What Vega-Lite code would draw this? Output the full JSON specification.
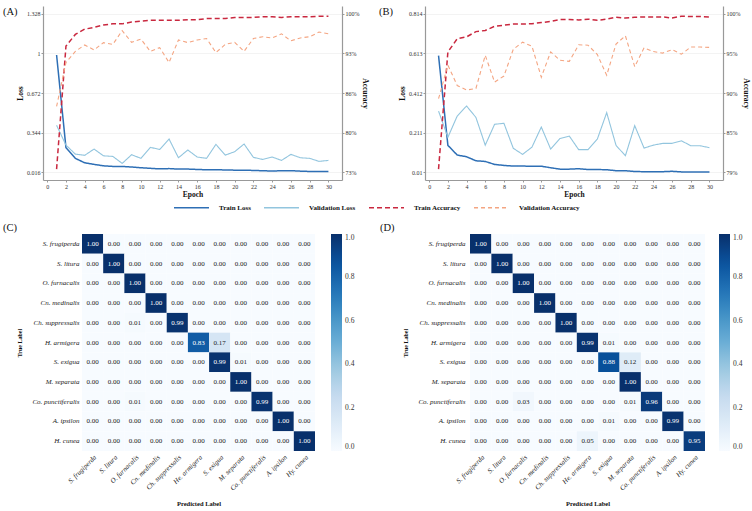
{
 "$schema": "https://vega.github.io/schema/vega-lite/v6.json",
 "padding": {"left": 2, "top": 6, "right": 1, "bottom": 2},
 "background": "white",
 "config": {
  "font": "Liberation Serif",
  "view": {"stroke": null},
  "axis": {"labelFont": "Liberation Serif", "titleFont": "Liberation Serif", "labelColor": "#333", "titleColor": "#111", "titleFontWeight": "bold"},
  "legend": {"labelFont": "Liberation Serif", "titleFont": "Liberation Serif"},
  "title": {"font": "Liberation Serif", "fontWeight": "normal", "color": "#111"}
 },
 "datasets": {
  "curvesA": [
   {"epoch":1,"series":"Train Loss","value":0.987},{"epoch":2,"series":"Train Loss","value":0.218},{"epoch":3,"series":"Train Loss","value":0.130},{"epoch":4,"series":"Train Loss","value":0.093},{"epoch":5,"series":"Train Loss","value":0.080},{"epoch":6,"series":"Train Loss","value":0.068},{"epoch":7,"series":"Train Loss","value":0.063},{"epoch":8,"series":"Train Loss","value":0.063},{"epoch":9,"series":"Train Loss","value":0.058},{"epoch":10,"series":"Train Loss","value":0.052},{"epoch":11,"series":"Train Loss","value":0.047},{"epoch":12,"series":"Train Loss","value":0.043},{"epoch":13,"series":"Train Loss","value":0.045},{"epoch":14,"series":"Train Loss","value":0.041},{"epoch":15,"series":"Train Loss","value":0.041},{"epoch":16,"series":"Train Loss","value":0.038},{"epoch":17,"series":"Train Loss","value":0.035},{"epoch":18,"series":"Train Loss","value":0.035},{"epoch":19,"series":"Train Loss","value":0.034},{"epoch":20,"series":"Train Loss","value":0.032},{"epoch":21,"series":"Train Loss","value":0.031},{"epoch":22,"series":"Train Loss","value":0.030},{"epoch":23,"series":"Train Loss","value":0.027},{"epoch":24,"series":"Train Loss","value":0.025},{"epoch":25,"series":"Train Loss","value":0.027},{"epoch":26,"series":"Train Loss","value":0.028},{"epoch":27,"series":"Train Loss","value":0.024},{"epoch":28,"series":"Train Loss","value":0.021},{"epoch":29,"series":"Train Loss","value":0.020},{"epoch":30,"series":"Train Loss","value":0.020},
   {"epoch":1,"series":"Validation Loss","value":0.404},{"epoch":2,"series":"Validation Loss","value":0.240},{"epoch":3,"series":"Validation Loss","value":0.165},{"epoch":4,"series":"Validation Loss","value":0.155},{"epoch":5,"series":"Validation Loss","value":0.207},{"epoch":6,"series":"Validation Loss","value":0.151},{"epoch":7,"series":"Validation Loss","value":0.146},{"epoch":8,"series":"Validation Loss","value":0.088},{"epoch":9,"series":"Validation Loss","value":0.160},{"epoch":10,"series":"Validation Loss","value":0.130},{"epoch":11,"series":"Validation Loss","value":0.221},{"epoch":12,"series":"Validation Loss","value":0.204},{"epoch":13,"series":"Validation Loss","value":0.290},{"epoch":14,"series":"Validation Loss","value":0.135},{"epoch":15,"series":"Validation Loss","value":0.199},{"epoch":16,"series":"Validation Loss","value":0.141},{"epoch":17,"series":"Validation Loss","value":0.130},{"epoch":18,"series":"Validation Loss","value":0.246},{"epoch":19,"series":"Validation Loss","value":0.157},{"epoch":20,"series":"Validation Loss","value":0.185},{"epoch":21,"series":"Validation Loss","value":0.249},{"epoch":22,"series":"Validation Loss","value":0.138},{"epoch":23,"series":"Validation Loss","value":0.121},{"epoch":24,"series":"Validation Loss","value":0.141},{"epoch":25,"series":"Validation Loss","value":0.113},{"epoch":26,"series":"Validation Loss","value":0.163},{"epoch":27,"series":"Validation Loss","value":0.135},{"epoch":28,"series":"Validation Loss","value":0.130},{"epoch":29,"series":"Validation Loss","value":0.105},{"epoch":30,"series":"Validation Loss","value":0.113},
   {"epoch":1,"series":"Train Accuracy","value":73.5},{"epoch":2,"series":"Train Accuracy","value":94.5},{"epoch":3,"series":"Train Accuracy","value":96.5},{"epoch":4,"series":"Train Accuracy","value":97.4},{"epoch":5,"series":"Train Accuracy","value":97.7},{"epoch":6,"series":"Train Accuracy","value":98.1},{"epoch":7,"series":"Train Accuracy","value":98.3},{"epoch":8,"series":"Train Accuracy","value":98.3},{"epoch":9,"series":"Train Accuracy","value":98.6},{"epoch":10,"series":"Train Accuracy","value":98.75},{"epoch":11,"series":"Train Accuracy","value":98.9},{"epoch":12,"series":"Train Accuracy","value":98.9},{"epoch":13,"series":"Train Accuracy","value":98.9},{"epoch":14,"series":"Train Accuracy","value":98.9},{"epoch":15,"series":"Train Accuracy","value":99.0},{"epoch":16,"series":"Train Accuracy","value":99.0},{"epoch":17,"series":"Train Accuracy","value":99.2},{"epoch":18,"series":"Train Accuracy","value":99.2},{"epoch":19,"series":"Train Accuracy","value":99.2},{"epoch":20,"series":"Train Accuracy","value":99.4},{"epoch":21,"series":"Train Accuracy","value":99.4},{"epoch":22,"series":"Train Accuracy","value":99.4},{"epoch":23,"series":"Train Accuracy","value":99.5},{"epoch":24,"series":"Train Accuracy","value":99.5},{"epoch":25,"series":"Train Accuracy","value":99.4},{"epoch":26,"series":"Train Accuracy","value":99.5},{"epoch":27,"series":"Train Accuracy","value":99.5},{"epoch":28,"series":"Train Accuracy","value":99.5},{"epoch":29,"series":"Train Accuracy","value":99.6},{"epoch":30,"series":"Train Accuracy","value":99.6},
   {"epoch":1,"series":"Validation Accuracy","value":84.2},{"epoch":2,"series":"Validation Accuracy","value":91.7},{"epoch":3,"series":"Validation Accuracy","value":93.6},{"epoch":4,"series":"Validation Accuracy","value":94.7},{"epoch":5,"series":"Validation Accuracy","value":93.85},{"epoch":6,"series":"Validation Accuracy","value":95.1},{"epoch":7,"series":"Validation Accuracy","value":94.8},{"epoch":8,"series":"Validation Accuracy","value":97.15},{"epoch":9,"series":"Validation Accuracy","value":95.15},{"epoch":10,"series":"Validation Accuracy","value":95.7},{"epoch":11,"series":"Validation Accuracy","value":93.6},{"epoch":12,"series":"Validation Accuracy","value":94.25},{"epoch":13,"series":"Validation Accuracy","value":91.7},{"epoch":14,"series":"Validation Accuracy","value":95.55},{"epoch":15,"series":"Validation Accuracy","value":95.1},{"epoch":16,"series":"Validation Accuracy","value":95.55},{"epoch":17,"series":"Validation Accuracy","value":95.8},{"epoch":18,"series":"Validation Accuracy","value":93.4},{"epoch":19,"series":"Validation Accuracy","value":94.8},{"epoch":20,"series":"Validation Accuracy","value":95.15},{"epoch":21,"series":"Validation Accuracy","value":93.6},{"epoch":22,"series":"Validation Accuracy","value":95.8},{"epoch":23,"series":"Validation Accuracy","value":96.1},{"epoch":24,"series":"Validation Accuracy","value":95.9},{"epoch":25,"series":"Validation Accuracy","value":96.6},{"epoch":26,"series":"Validation Accuracy","value":95.4},{"epoch":27,"series":"Validation Accuracy","value":95.9},{"epoch":28,"series":"Validation Accuracy","value":96.1},{"epoch":29,"series":"Validation Accuracy","value":96.9},{"epoch":30,"series":"Validation Accuracy","value":96.6}
  ],
  "curvesB": [
   {"epoch":1,"series":"Train Loss","value":0.602},{"epoch":2,"series":"Train Loss","value":0.146},{"epoch":3,"series":"Train Loss","value":0.0965},{"epoch":4,"series":"Train Loss","value":0.088},{"epoch":5,"series":"Train Loss","value":0.0675},{"epoch":6,"series":"Train Loss","value":0.064},{"epoch":7,"series":"Train Loss","value":0.049},{"epoch":8,"series":"Train Loss","value":0.044},{"epoch":9,"series":"Train Loss","value":0.0405},{"epoch":10,"series":"Train Loss","value":0.0405},{"epoch":11,"series":"Train Loss","value":0.040},{"epoch":12,"series":"Train Loss","value":0.040},{"epoch":13,"series":"Train Loss","value":0.032},{"epoch":14,"series":"Train Loss","value":0.025},{"epoch":15,"series":"Train Loss","value":0.025},{"epoch":16,"series":"Train Loss","value":0.027},{"epoch":17,"series":"Train Loss","value":0.023},{"epoch":18,"series":"Train Loss","value":0.023},{"epoch":19,"series":"Train Loss","value":0.022},{"epoch":20,"series":"Train Loss","value":0.017},{"epoch":21,"series":"Train Loss","value":0.017},{"epoch":22,"series":"Train Loss","value":0.013},{"epoch":23,"series":"Train Loss","value":0.012},{"epoch":24,"series":"Train Loss","value":0.012},{"epoch":25,"series":"Train Loss","value":0.012},{"epoch":26,"series":"Train Loss","value":0.014},{"epoch":27,"series":"Train Loss","value":0.011},{"epoch":28,"series":"Train Loss","value":0.011},{"epoch":29,"series":"Train Loss","value":0.011},{"epoch":30,"series":"Train Loss","value":0.011},
   {"epoch":1,"series":"Validation Loss","value":0.320},{"epoch":2,"series":"Validation Loss","value":0.187},{"epoch":3,"series":"Validation Loss","value":0.295},{"epoch":4,"series":"Validation Loss","value":0.346},{"epoch":5,"series":"Validation Loss","value":0.288},{"epoch":6,"series":"Validation Loss","value":0.147},{"epoch":7,"series":"Validation Loss","value":0.253},{"epoch":8,"series":"Validation Loss","value":0.258},{"epoch":9,"series":"Validation Loss","value":0.131},{"epoch":10,"series":"Validation Loss","value":0.100},{"epoch":11,"series":"Validation Loss","value":0.137},{"epoch":12,"series":"Validation Loss","value":0.239},{"epoch":13,"series":"Validation Loss","value":0.127},{"epoch":14,"series":"Validation Loss","value":0.181},{"epoch":15,"series":"Validation Loss","value":0.193},{"epoch":16,"series":"Validation Loss","value":0.124},{"epoch":17,"series":"Validation Loss","value":0.124},{"epoch":18,"series":"Validation Loss","value":0.178},{"epoch":19,"series":"Validation Loss","value":0.312},{"epoch":20,"series":"Validation Loss","value":0.146},{"epoch":21,"series":"Validation Loss","value":0.093},{"epoch":22,"series":"Validation Loss","value":0.246},{"epoch":23,"series":"Validation Loss","value":0.132},{"epoch":24,"series":"Validation Loss","value":0.147},{"epoch":25,"series":"Validation Loss","value":0.156},{"epoch":26,"series":"Validation Loss","value":0.156},{"epoch":27,"series":"Validation Loss","value":0.169},{"epoch":28,"series":"Validation Loss","value":0.144},{"epoch":29,"series":"Validation Loss","value":0.144},{"epoch":30,"series":"Validation Loss","value":0.134},
   {"epoch":1,"series":"Train Accuracy","value":79.4},{"epoch":2,"series":"Train Accuracy","value":94.95},{"epoch":3,"series":"Train Accuracy","value":96.7},{"epoch":4,"series":"Train Accuracy","value":96.95},{"epoch":5,"series":"Train Accuracy","value":97.65},{"epoch":6,"series":"Train Accuracy","value":97.8},{"epoch":7,"series":"Train Accuracy","value":98.35},{"epoch":8,"series":"Train Accuracy","value":98.5},{"epoch":9,"series":"Train Accuracy","value":98.65},{"epoch":10,"series":"Train Accuracy","value":98.65},{"epoch":11,"series":"Train Accuracy","value":98.7},{"epoch":12,"series":"Train Accuracy","value":98.85},{"epoch":13,"series":"Train Accuracy","value":99.0},{"epoch":14,"series":"Train Accuracy","value":99.25},{"epoch":15,"series":"Train Accuracy","value":99.25},{"epoch":16,"series":"Train Accuracy","value":99.2},{"epoch":17,"series":"Train Accuracy","value":99.3},{"epoch":18,"series":"Train Accuracy","value":99.15},{"epoch":19,"series":"Train Accuracy","value":99.3},{"epoch":20,"series":"Train Accuracy","value":99.55},{"epoch":21,"series":"Train Accuracy","value":99.45},{"epoch":22,"series":"Train Accuracy","value":99.55},{"epoch":23,"series":"Train Accuracy","value":99.6},{"epoch":24,"series":"Train Accuracy","value":99.6},{"epoch":25,"series":"Train Accuracy","value":99.6},{"epoch":26,"series":"Train Accuracy","value":99.45},{"epoch":27,"series":"Train Accuracy","value":99.7},{"epoch":28,"series":"Train Accuracy","value":99.65},{"epoch":29,"series":"Train Accuracy","value":99.65},{"epoch":30,"series":"Train Accuracy","value":99.6},
   {"epoch":1,"series":"Validation Accuracy","value":88.75},{"epoch":2,"series":"Validation Accuracy","value":93.2},{"epoch":3,"series":"Validation Accuracy","value":90.5},{"epoch":4,"series":"Validation Accuracy","value":89.9},{"epoch":5,"series":"Validation Accuracy","value":90.1},{"epoch":6,"series":"Validation Accuracy","value":94.5},{"epoch":7,"series":"Validation Accuracy","value":90.95},{"epoch":8,"series":"Validation Accuracy","value":91.75},{"epoch":9,"series":"Validation Accuracy","value":95.3},{"epoch":10,"series":"Validation Accuracy","value":96.25},{"epoch":11,"series":"Validation Accuracy","value":95.7},{"epoch":12,"series":"Validation Accuracy","value":91.6},{"epoch":13,"series":"Validation Accuracy","value":94.95},{"epoch":14,"series":"Validation Accuracy","value":93.85},{"epoch":15,"series":"Validation Accuracy","value":93.7},{"epoch":16,"series":"Validation Accuracy","value":95.9},{"epoch":17,"series":"Validation Accuracy","value":95.85},{"epoch":18,"series":"Validation Accuracy","value":94.6},{"epoch":19,"series":"Validation Accuracy","value":91.85},{"epoch":20,"series":"Validation Accuracy","value":96.0},{"epoch":21,"series":"Validation Accuracy","value":97.1},{"epoch":22,"series":"Validation Accuracy","value":93.0},{"epoch":23,"series":"Validation Accuracy","value":95.5},{"epoch":24,"series":"Validation Accuracy","value":95.0},{"epoch":25,"series":"Validation Accuracy","value":94.8},{"epoch":26,"series":"Validation Accuracy","value":95.25},{"epoch":27,"series":"Validation Accuracy","value":94.65},{"epoch":28,"series":"Validation Accuracy","value":95.6},{"epoch":29,"series":"Validation Accuracy","value":95.6},{"epoch":30,"series":"Validation Accuracy","value":95.55}
  ],
  "cmC": [
   {"actual":"S. frugiperda","pred":"S. frugiperda","rate":1},{"actual":"S. frugiperda","pred":"S. litura","rate":0},{"actual":"S. frugiperda","pred":"O. furnacalis","rate":0},{"actual":"S. frugiperda","pred":"Cn. medinalis","rate":0},{"actual":"S. frugiperda","pred":"Ch. suppressalis","rate":0},{"actual":"S. frugiperda","pred":"He. armigera","rate":0},{"actual":"S. frugiperda","pred":"S. exigua","rate":0},{"actual":"S. frugiperda","pred":"M. separata","rate":0},{"actual":"S. frugiperda","pred":"Co. punctiferalis","rate":0},{"actual":"S. frugiperda","pred":"A. ipsilon","rate":0},{"actual":"S. frugiperda","pred":"Hy. cunea","rate":0},
   {"actual":"S. litura","pred":"S. frugiperda","rate":0},{"actual":"S. litura","pred":"S. litura","rate":1},{"actual":"S. litura","pred":"O. furnacalis","rate":0},{"actual":"S. litura","pred":"Cn. medinalis","rate":0},{"actual":"S. litura","pred":"Ch. suppressalis","rate":0},{"actual":"S. litura","pred":"He. armigera","rate":0},{"actual":"S. litura","pred":"S. exigua","rate":0},{"actual":"S. litura","pred":"M. separata","rate":0},{"actual":"S. litura","pred":"Co. punctiferalis","rate":0},{"actual":"S. litura","pred":"A. ipsilon","rate":0},{"actual":"S. litura","pred":"Hy. cunea","rate":0},
   {"actual":"O. furnacalis","pred":"S. frugiperda","rate":0},{"actual":"O. furnacalis","pred":"S. litura","rate":0},{"actual":"O. furnacalis","pred":"O. furnacalis","rate":1},{"actual":"O. furnacalis","pred":"Cn. medinalis","rate":0},{"actual":"O. furnacalis","pred":"Ch. suppressalis","rate":0},{"actual":"O. furnacalis","pred":"He. armigera","rate":0},{"actual":"O. furnacalis","pred":"S. exigua","rate":0},{"actual":"O. furnacalis","pred":"M. separata","rate":0},{"actual":"O. furnacalis","pred":"Co. punctiferalis","rate":0},{"actual":"O. furnacalis","pred":"A. ipsilon","rate":0},{"actual":"O. furnacalis","pred":"Hy. cunea","rate":0},
   {"actual":"Cn. medinalis","pred":"S. frugiperda","rate":0},{"actual":"Cn. medinalis","pred":"S. litura","rate":0},{"actual":"Cn. medinalis","pred":"O. furnacalis","rate":0},{"actual":"Cn. medinalis","pred":"Cn. medinalis","rate":1},{"actual":"Cn. medinalis","pred":"Ch. suppressalis","rate":0},{"actual":"Cn. medinalis","pred":"He. armigera","rate":0},{"actual":"Cn. medinalis","pred":"S. exigua","rate":0},{"actual":"Cn. medinalis","pred":"M. separata","rate":0},{"actual":"Cn. medinalis","pred":"Co. punctiferalis","rate":0},{"actual":"Cn. medinalis","pred":"A. ipsilon","rate":0},{"actual":"Cn. medinalis","pred":"Hy. cunea","rate":0},
   {"actual":"Ch. suppressalis","pred":"S. frugiperda","rate":0},{"actual":"Ch. suppressalis","pred":"S. litura","rate":0},{"actual":"Ch. suppressalis","pred":"O. furnacalis","rate":0.01},{"actual":"Ch. suppressalis","pred":"Cn. medinalis","rate":0},{"actual":"Ch. suppressalis","pred":"Ch. suppressalis","rate":0.99},{"actual":"Ch. suppressalis","pred":"He. armigera","rate":0},{"actual":"Ch. suppressalis","pred":"S. exigua","rate":0},{"actual":"Ch. suppressalis","pred":"M. separata","rate":0},{"actual":"Ch. suppressalis","pred":"Co. punctiferalis","rate":0},{"actual":"Ch. suppressalis","pred":"A. ipsilon","rate":0},{"actual":"Ch. suppressalis","pred":"Hy. cunea","rate":0},
   {"actual":"H. armigera","pred":"S. frugiperda","rate":0},{"actual":"H. armigera","pred":"S. litura","rate":0},{"actual":"H. armigera","pred":"O. furnacalis","rate":0},{"actual":"H. armigera","pred":"Cn. medinalis","rate":0},{"actual":"H. armigera","pred":"Ch. suppressalis","rate":0},{"actual":"H. armigera","pred":"He. armigera","rate":0.83},{"actual":"H. armigera","pred":"S. exigua","rate":0.17},{"actual":"H. armigera","pred":"M. separata","rate":0},{"actual":"H. armigera","pred":"Co. punctiferalis","rate":0},{"actual":"H. armigera","pred":"A. ipsilon","rate":0},{"actual":"H. armigera","pred":"Hy. cunea","rate":0},
   {"actual":"S. exigua","pred":"S. frugiperda","rate":0},{"actual":"S. exigua","pred":"S. litura","rate":0},{"actual":"S. exigua","pred":"O. furnacalis","rate":0},{"actual":"S. exigua","pred":"Cn. medinalis","rate":0},{"actual":"S. exigua","pred":"Ch. suppressalis","rate":0},{"actual":"S. exigua","pred":"He. armigera","rate":0},{"actual":"S. exigua","pred":"S. exigua","rate":0.99},{"actual":"S. exigua","pred":"M. separata","rate":0.01},{"actual":"S. exigua","pred":"Co. punctiferalis","rate":0},{"actual":"S. exigua","pred":"A. ipsilon","rate":0},{"actual":"S. exigua","pred":"Hy. cunea","rate":0},
   {"actual":"M. separata","pred":"S. frugiperda","rate":0},{"actual":"M. separata","pred":"S. litura","rate":0},{"actual":"M. separata","pred":"O. furnacalis","rate":0},{"actual":"M. separata","pred":"Cn. medinalis","rate":0},{"actual":"M. separata","pred":"Ch. suppressalis","rate":0},{"actual":"M. separata","pred":"He. armigera","rate":0},{"actual":"M. separata","pred":"S. exigua","rate":0},{"actual":"M. separata","pred":"M. separata","rate":1},{"actual":"M. separata","pred":"Co. punctiferalis","rate":0},{"actual":"M. separata","pred":"A. ipsilon","rate":0},{"actual":"M. separata","pred":"Hy. cunea","rate":0},
   {"actual":"Co. punctiferalis","pred":"S. frugiperda","rate":0},{"actual":"Co. punctiferalis","pred":"S. litura","rate":0},{"actual":"Co. punctiferalis","pred":"O. furnacalis","rate":0.01},{"actual":"Co. punctiferalis","pred":"Cn. medinalis","rate":0},{"actual":"Co. punctiferalis","pred":"Ch. suppressalis","rate":0},{"actual":"Co. punctiferalis","pred":"He. armigera","rate":0},{"actual":"Co. punctiferalis","pred":"S. exigua","rate":0},{"actual":"Co. punctiferalis","pred":"M. separata","rate":0},{"actual":"Co. punctiferalis","pred":"Co. punctiferalis","rate":0.99},{"actual":"Co. punctiferalis","pred":"A. ipsilon","rate":0},{"actual":"Co. punctiferalis","pred":"Hy. cunea","rate":0},
   {"actual":"A. ipsilon","pred":"S. frugiperda","rate":0},{"actual":"A. ipsilon","pred":"S. litura","rate":0},{"actual":"A. ipsilon","pred":"O. furnacalis","rate":0},{"actual":"A. ipsilon","pred":"Cn. medinalis","rate":0},{"actual":"A. ipsilon","pred":"Ch. suppressalis","rate":0},{"actual":"A. ipsilon","pred":"He. armigera","rate":0},{"actual":"A. ipsilon","pred":"S. exigua","rate":0},{"actual":"A. ipsilon","pred":"M. separata","rate":0},{"actual":"A. ipsilon","pred":"Co. punctiferalis","rate":0},{"actual":"A. ipsilon","pred":"A. ipsilon","rate":1},{"actual":"A. ipsilon","pred":"Hy. cunea","rate":0},
   {"actual":"H. cunea","pred":"S. frugiperda","rate":0},{"actual":"H. cunea","pred":"S. litura","rate":0},{"actual":"H. cunea","pred":"O. furnacalis","rate":0},{"actual":"H. cunea","pred":"Cn. medinalis","rate":0},{"actual":"H. cunea","pred":"Ch. suppressalis","rate":0},{"actual":"H. cunea","pred":"He. armigera","rate":0},{"actual":"H. cunea","pred":"S. exigua","rate":0},{"actual":"H. cunea","pred":"M. separata","rate":0},{"actual":"H. cunea","pred":"Co. punctiferalis","rate":0},{"actual":"H. cunea","pred":"A. ipsilon","rate":0},{"actual":"H. cunea","pred":"Hy. cunea","rate":1}
  ],
  "cmD": [
   {"actual":"S. frugiperda","pred":"S. frugiperda","rate":1},{"actual":"S. frugiperda","pred":"S. litura","rate":0},{"actual":"S. frugiperda","pred":"O. furnacalis","rate":0},{"actual":"S. frugiperda","pred":"Cn. medinalis","rate":0},{"actual":"S. frugiperda","pred":"Ch. suppressalis","rate":0},{"actual":"S. frugiperda","pred":"He. armigera","rate":0},{"actual":"S. frugiperda","pred":"S. exigua","rate":0},{"actual":"S. frugiperda","pred":"M. separata","rate":0},{"actual":"S. frugiperda","pred":"Co. punctiferalis","rate":0},{"actual":"S. frugiperda","pred":"A. ipsilon","rate":0},{"actual":"S. frugiperda","pred":"Hy. cunea","rate":0},
   {"actual":"S. litura","pred":"S. frugiperda","rate":0},{"actual":"S. litura","pred":"S. litura","rate":1},{"actual":"S. litura","pred":"O. furnacalis","rate":0},{"actual":"S. litura","pred":"Cn. medinalis","rate":0},{"actual":"S. litura","pred":"Ch. suppressalis","rate":0},{"actual":"S. litura","pred":"He. armigera","rate":0},{"actual":"S. litura","pred":"S. exigua","rate":0},{"actual":"S. litura","pred":"M. separata","rate":0},{"actual":"S. litura","pred":"Co. punctiferalis","rate":0},{"actual":"S. litura","pred":"A. ipsilon","rate":0},{"actual":"S. litura","pred":"Hy. cunea","rate":0},
   {"actual":"O. furnacalis","pred":"S. frugiperda","rate":0},{"actual":"O. furnacalis","pred":"S. litura","rate":0},{"actual":"O. furnacalis","pred":"O. furnacalis","rate":1},{"actual":"O. furnacalis","pred":"Cn. medinalis","rate":0},{"actual":"O. furnacalis","pred":"Ch. suppressalis","rate":0},{"actual":"O. furnacalis","pred":"He. armigera","rate":0},{"actual":"O. furnacalis","pred":"S. exigua","rate":0},{"actual":"O. furnacalis","pred":"M. separata","rate":0},{"actual":"O. furnacalis","pred":"Co. punctiferalis","rate":0},{"actual":"O. furnacalis","pred":"A. ipsilon","rate":0},{"actual":"O. furnacalis","pred":"Hy. cunea","rate":0},
   {"actual":"Cn. medinalis","pred":"S. frugiperda","rate":0},{"actual":"Cn. medinalis","pred":"S. litura","rate":0},{"actual":"Cn. medinalis","pred":"O. furnacalis","rate":0},{"actual":"Cn. medinalis","pred":"Cn. medinalis","rate":1},{"actual":"Cn. medinalis","pred":"Ch. suppressalis","rate":0},{"actual":"Cn. medinalis","pred":"He. armigera","rate":0},{"actual":"Cn. medinalis","pred":"S. exigua","rate":0},{"actual":"Cn. medinalis","pred":"M. separata","rate":0},{"actual":"Cn. medinalis","pred":"Co. punctiferalis","rate":0},{"actual":"Cn. medinalis","pred":"A. ipsilon","rate":0},{"actual":"Cn. medinalis","pred":"Hy. cunea","rate":0},
   {"actual":"Ch. suppressalis","pred":"S. frugiperda","rate":0},{"actual":"Ch. suppressalis","pred":"S. litura","rate":0},{"actual":"Ch. suppressalis","pred":"O. furnacalis","rate":0},{"actual":"Ch. suppressalis","pred":"Cn. medinalis","rate":0},{"actual":"Ch. suppressalis","pred":"Ch. suppressalis","rate":1},{"actual":"Ch. suppressalis","pred":"He. armigera","rate":0},{"actual":"Ch. suppressalis","pred":"S. exigua","rate":0},{"actual":"Ch. suppressalis","pred":"M. separata","rate":0},{"actual":"Ch. suppressalis","pred":"Co. punctiferalis","rate":0},{"actual":"Ch. suppressalis","pred":"A. ipsilon","rate":0},{"actual":"Ch. suppressalis","pred":"Hy. cunea","rate":0},
   {"actual":"H. armigera","pred":"S. frugiperda","rate":0},{"actual":"H. armigera","pred":"S. litura","rate":0},{"actual":"H. armigera","pred":"O. furnacalis","rate":0},{"actual":"H. armigera","pred":"Cn. medinalis","rate":0},{"actual":"H. armigera","pred":"Ch. suppressalis","rate":0},{"actual":"H. armigera","pred":"He. armigera","rate":0.99},{"actual":"H. armigera","pred":"S. exigua","rate":0.01},{"actual":"H. armigera","pred":"M. separata","rate":0},{"actual":"H. armigera","pred":"Co. punctiferalis","rate":0},{"actual":"H. armigera","pred":"A. ipsilon","rate":0},{"actual":"H. armigera","pred":"Hy. cunea","rate":0},
   {"actual":"S. exigua","pred":"S. frugiperda","rate":0},{"actual":"S. exigua","pred":"S. litura","rate":0},{"actual":"S. exigua","pred":"O. furnacalis","rate":0},{"actual":"S. exigua","pred":"Cn. medinalis","rate":0},{"actual":"S. exigua","pred":"Ch. suppressalis","rate":0},{"actual":"S. exigua","pred":"He. armigera","rate":0},{"actual":"S. exigua","pred":"S. exigua","rate":0.88},{"actual":"S. exigua","pred":"M. separata","rate":0.12},{"actual":"S. exigua","pred":"Co. punctiferalis","rate":0},{"actual":"S. exigua","pred":"A. ipsilon","rate":0},{"actual":"S. exigua","pred":"Hy. cunea","rate":0},
   {"actual":"M. separata","pred":"S. frugiperda","rate":0},{"actual":"M. separata","pred":"S. litura","rate":0},{"actual":"M. separata","pred":"O. furnacalis","rate":0},{"actual":"M. separata","pred":"Cn. medinalis","rate":0},{"actual":"M. separata","pred":"Ch. suppressalis","rate":0},{"actual":"M. separata","pred":"He. armigera","rate":0},{"actual":"M. separata","pred":"S. exigua","rate":0},{"actual":"M. separata","pred":"M. separata","rate":1},{"actual":"M. separata","pred":"Co. punctiferalis","rate":0},{"actual":"M. separata","pred":"A. ipsilon","rate":0},{"actual":"M. separata","pred":"Hy. cunea","rate":0},
   {"actual":"Co. punctiferalis","pred":"S. frugiperda","rate":0},{"actual":"Co. punctiferalis","pred":"S. litura","rate":0},{"actual":"Co. punctiferalis","pred":"O. furnacalis","rate":0.03},{"actual":"Co. punctiferalis","pred":"Cn. medinalis","rate":0},{"actual":"Co. punctiferalis","pred":"Ch. suppressalis","rate":0},{"actual":"Co. punctiferalis","pred":"He. armigera","rate":0},{"actual":"Co. punctiferalis","pred":"S. exigua","rate":0},{"actual":"Co. punctiferalis","pred":"M. separata","rate":0.01},{"actual":"Co. punctiferalis","pred":"Co. punctiferalis","rate":0.96},{"actual":"Co. punctiferalis","pred":"A. ipsilon","rate":0},{"actual":"Co. punctiferalis","pred":"Hy. cunea","rate":0},
   {"actual":"A. ipsilon","pred":"S. frugiperda","rate":0},{"actual":"A. ipsilon","pred":"S. litura","rate":0},{"actual":"A. ipsilon","pred":"O. furnacalis","rate":0},{"actual":"A. ipsilon","pred":"Cn. medinalis","rate":0},{"actual":"A. ipsilon","pred":"Ch. suppressalis","rate":0},{"actual":"A. ipsilon","pred":"He. armigera","rate":0},{"actual":"A. ipsilon","pred":"S. exigua","rate":0.01},{"actual":"A. ipsilon","pred":"M. separata","rate":0},{"actual":"A. ipsilon","pred":"Co. punctiferalis","rate":0},{"actual":"A. ipsilon","pred":"A. ipsilon","rate":0.99},{"actual":"A. ipsilon","pred":"Hy. cunea","rate":0},
   {"actual":"H. cunea","pred":"S. frugiperda","rate":0},{"actual":"H. cunea","pred":"S. litura","rate":0},{"actual":"H. cunea","pred":"O. furnacalis","rate":0},{"actual":"H. cunea","pred":"Cn. medinalis","rate":0},{"actual":"H. cunea","pred":"Ch. suppressalis","rate":0},{"actual":"H. cunea","pred":"He. armigera","rate":0.05},{"actual":"H. cunea","pred":"S. exigua","rate":0},{"actual":"H. cunea","pred":"M. separata","rate":0},{"actual":"H. cunea","pred":"Co. punctiferalis","rate":0},{"actual":"H. cunea","pred":"A. ipsilon","rate":0},{"actual":"H. cunea","pred":"Hy. cunea","rate":0.95}
  ]
 },
 "spacing": 24,
 "resolve": {"scale": {"fill": "independent"}, "legend": {"fill": "independent"}},
 "vconcat": [
  {
   "spacing": 0,
   "hconcat": [
    {"width": 1, "height": 1, "data": {"values": []}, "mark": "point"},
    {
     "title": {"text": "(A)", "anchor": "start", "frame": "group", "dx": -40, "dy": 11, "offset": 0, "fontSize": 10.5},
     "width": 299, "height": 174,
     "data": {"name": "curvesA"},
     "encoding": {
      "x": {"field": "epoch", "type": "quantitative", "scale": {"domain": [-0.45, 31.45], "nice": false, "zero": false},
            "axis": {"values": [0,2,4,6,8,10,12,14,16,18,20,22,24,26,28,30], "grid": false, "title": "Epoch", "labelFontSize": 6, "titleFontSize": 7.5, "tickSize": 2, "labelPadding": 1, "titlePadding": 1, "domainColor": "#999", "domainWidth": 1.2, "tickColor": "#999"}},
      "color": {"field": "series", "type": "nominal",
                "scale": {"domain": ["Train Loss", "Validation Loss", "Train Accuracy", "Validation Accuracy"], "range": ["#2e6fb5", "#92c5de", "#c9283f", "#f4a582"]},
                "legend": {"title": null, "orient": "none", "legendX": 171, "legendY": 183, "direction": "horizontal", "symbolType": "stroke", "symbolSize": 1225, "symbolStrokeWidth": 1.3, "labelFontSize": 7, "labelFontWeight": "bold", "labelColor": "#111", "labelOffset": 9, "columnPadding": 10}},
      "strokeDash": {"field": "series", "type": "nominal",
                "scale": {"domain": ["Train Loss", "Validation Loss", "Train Accuracy", "Validation Accuracy"], "range": [[1,0],[1,0],[5,3],[4,3]]},
                "legend": {"title": null, "orient": "none", "legendX": 171, "legendY": 183, "direction": "horizontal", "symbolType": "stroke", "symbolSize": 1225, "symbolStrokeWidth": 1.3, "labelFontSize": 7, "labelFontWeight": "bold", "labelColor": "#111", "labelOffset": 9, "columnPadding": 10}},
      "strokeWidth": {"condition": {"test": "datum.series == 'Train Loss' || datum.series == 'Train Accuracy'", "value": 1.5}, "value": 1.1}
     },
     "layer": [
      {"transform": [{"filter": {"field": "series", "oneOf": ["Train Loss", "Validation Loss"]}}],
       "mark": {"type": "line"},
       "encoding": {"y": {"field": "value", "type": "quantitative", "scale": {"domain": [-0.0496, 1.3936], "nice": false, "zero": false},
         "axis": {"orient": "left", "values": [0.016, 0.344, 0.672, 1, 1.328], "labelExpr": "toString(datum.value)", "title": "Loss", "grid": true, "gridColor": "#ebebeb", "gridWidth": 0.6, "labelFontSize": 6, "titleFontSize": 7.5, "tickSize": 2, "labelPadding": 1, "titlePadding": 2, "domainColor": "#999", "domainWidth": 1.2, "tickColor": "#999"}}}},
      {"transform": [{"filter": {"field": "series", "oneOf": ["Train Accuracy", "Validation Accuracy"]}}],
       "mark": {"type": "line"},
       "encoding": {"y": {"field": "value", "type": "quantitative", "scale": {"domain": [71.65, 101.35], "nice": false, "zero": false},
         "axis": {"orient": "right", "values": [73, 79.75, 86.5, 93.25, 100], "labelExpr": "['73%','80%','86%','93%','100%'][round((datum.value-73)/6.75)]", "title": "Accuracy", "grid": false, "labelFontSize": 6, "titleFontSize": 7.5, "tickSize": 2, "labelPadding": 1, "titlePadding": 2, "domainColor": "#999", "domainWidth": 1.2, "tickColor": "#999"}}}}
     ],
     "resolve": {"scale": {"y": "independent"}}
    },
    {"width": 10, "height": 1, "data": {"values": []}, "mark": "point"},
    {
     "title": {"text": "(B)", "anchor": "start", "frame": "group", "dx": -46, "dy": 11, "offset": 0, "fontSize": 10.5},
     "width": 298, "height": 174,
     "data": {"name": "curvesB"},
     "encoding": {
      "x": {"field": "epoch", "type": "quantitative", "scale": {"domain": [-0.45, 31.45], "nice": false, "zero": false},
            "axis": {"values": [0,2,4,6,8,10,12,14,16,18,20,22,24,26,28,30], "grid": false, "title": "Epoch", "labelFontSize": 6, "titleFontSize": 7.5, "tickSize": 2, "labelPadding": 1, "titlePadding": 1, "domainColor": "#999", "domainWidth": 1.2, "tickColor": "#999"}},
      "color": {"field": "series", "type": "nominal",
                "scale": {"domain": ["Train Loss", "Validation Loss", "Train Accuracy", "Validation Accuracy"], "range": ["#2e6fb5", "#92c5de", "#c9283f", "#f4a582"]},
                "legend": {"title": null, "orient": "none", "legendX": 171, "legendY": 183, "direction": "horizontal", "symbolType": "stroke", "symbolSize": 1225, "symbolStrokeWidth": 1.3, "labelFontSize": 7, "labelFontWeight": "bold", "labelColor": "#111", "labelOffset": 9, "columnPadding": 10}},
      "strokeDash": {"field": "series", "type": "nominal",
                "scale": {"domain": ["Train Loss", "Validation Loss", "Train Accuracy", "Validation Accuracy"], "range": [[1,0],[1,0],[5,3],[4,3]]},
                "legend": {"title": null, "orient": "none", "legendX": 171, "legendY": 183, "direction": "horizontal", "symbolType": "stroke", "symbolSize": 1225, "symbolStrokeWidth": 1.3, "labelFontSize": 7, "labelFontWeight": "bold", "labelColor": "#111", "labelOffset": 9, "columnPadding": 10}},
      "strokeWidth": {"condition": {"test": "datum.series == 'Train Loss' || datum.series == 'Train Accuracy'", "value": 1.5}, "value": 1.1}
     },
     "layer": [
      {"transform": [{"filter": {"field": "series", "oneOf": ["Train Loss", "Validation Loss"]}}],
       "mark": {"type": "line"},
       "encoding": {"y": {"field": "value", "type": "quantitative", "scale": {"domain": [-0.0302, 0.8542], "nice": false, "zero": false},
         "axis": {"orient": "left", "values": [0.01, 0.211, 0.412, 0.613, 0.814], "labelExpr": "toString(datum.value)", "title": "Loss", "grid": true, "gridColor": "#ebebeb", "gridWidth": 0.6, "labelFontSize": 6, "titleFontSize": 7.5, "tickSize": 2, "labelPadding": 1, "titlePadding": 2, "domainColor": "#999", "domainWidth": 1.2, "tickColor": "#999"}}}},
      {"transform": [{"filter": {"field": "series", "oneOf": ["Train Accuracy", "Validation Accuracy"]}}],
       "mark": {"type": "line"},
       "encoding": {"y": {"field": "value", "type": "quantitative", "scale": {"domain": [77.95, 101.05], "nice": false, "zero": false},
         "axis": {"orient": "right", "values": [79, 84.25, 89.5, 94.75, 100], "labelExpr": "['79%','85%','90%','95%','100%'][round((datum.value-79)/5.25)]", "title": "Accuracy", "grid": false, "labelFontSize": 6, "titleFontSize": 7.5, "tickSize": 2, "labelPadding": 1, "titlePadding": 2, "domainColor": "#999", "domainWidth": 1.2, "tickColor": "#999"}}}}
     ],
     "resolve": {"scale": {"y": "independent"}}
    }
   ]
  },
  {
   "spacing": 0,
   "resolve": {"scale": {"fill": "independent"}, "legend": {"fill": "independent"}},
   "hconcat": [
    {"width": 1, "height": 1, "data": {"values": []}, "mark": "point"},
    {
     "title": {"text": "(C)", "anchor": "start", "frame": "group", "dx": -79, "offset": 1, "fontSize": 10.5},
     "width": 233, "height": 217,
     "data": {"name": "cmC"},
     "encoding": {
      "x": {"field": "pred", "type": "nominal", "sort": ["S. frugiperda","S. litura","O. furnacalis","Cn. medinalis","Ch. suppressalis","He. armigera","S. exigua","M. separata","Co. punctiferalis","A. ipsilon","Hy. cunea"],
            "axis": {"title": "Predicted Label", "titleY": 52, "titleBaseline": "middle", "labelAngle": -45, "labelAlign": "right", "labelBaseline": "top", "labelFontStyle": "italic", "labelFontSize": 7, "labelColor": "#222", "ticks": false, "domain": false, "labelPadding": 2, "titleFontSize": 6.5}},
      "y": {"field": "actual", "type": "nominal", "sort": ["S. frugiperda","S. litura","O. furnacalis","Cn. medinalis","Ch. suppressalis","H. armigera","S. exigua","M. separata","Co. punctiferalis","A. ipsilon","H. cunea"],
            "axis": {"title": "True Label", "labelFontStyle": "italic", "labelFontSize": 7, "labelColor": "#222", "ticks": false, "domain": false, "labelPadding": 3, "titleFontSize": 6, "titlePadding": 9}}
     },
     "layer": [
      {"mark": {"type": "rect"},
       "encoding": {"fill": {"field": "rate", "type": "quantitative",
         "scale": {"domain": [0, 0.125, 0.25, 0.375, 0.5, 0.625, 0.75, 0.875, 1], "range": ["#f7fbff", "#deebf7", "#c6dbef", "#9ecae1", "#6baed6", "#4292c6", "#2171b5", "#08519c", "#08306b"]},
         "legend": {"title": null, "orient": "right", "offset": 16, "gradientLength": 217, "gradientThickness": 11, "gradientStrokeWidth": 0, "values": [0, 0.2, 0.4, 0.6, 0.8, 1], "format": ".1f", "labelFontSize": 7.5, "labelColor": "#333", "labelOffset": 3, "labelBaseline": "middle"}}}},
      {"mark": {"type": "text", "fontSize": 7, "font": "Liberation Serif"},
       "encoding": {"text": {"field": "rate", "type": "quantitative", "format": ".2f"},
                    "color": {"condition": {"test": "datum.rate > 0.5", "value": "white"}, "value": "#222"}}}
     ]
    },
    {"width": 25, "height": 1, "data": {"values": []}, "mark": "point"},
    {
     "title": {"text": "(D)", "anchor": "start", "frame": "group", "dx": -90, "offset": 1, "fontSize": 10.5},
     "width": 235, "height": 217,
     "data": {"name": "cmD"},
     "encoding": {
      "x": {"field": "pred", "type": "nominal", "sort": ["S. frugiperda","S. litura","O. furnacalis","Cn. medinalis","Ch. suppressalis","He. armigera","S. exigua","M. separata","Co. punctiferalis","A. ipsilon","Hy. cunea"],
            "axis": {"title": "Predicted Label", "titleY": 52, "titleBaseline": "middle", "labelAngle": -45, "labelAlign": "right", "labelBaseline": "top", "labelFontStyle": "italic", "labelFontSize": 7, "labelColor": "#222", "ticks": false, "domain": false, "labelPadding": 2, "titleFontSize": 6.5}},
      "y": {"field": "actual", "type": "nominal", "sort": ["S. frugiperda","S. litura","O. furnacalis","Cn. medinalis","Ch. suppressalis","H. armigera","S. exigua","M. separata","Co. punctiferalis","A. ipsilon","H. cunea"],
            "axis": {"title": "True Label", "labelFontStyle": "italic", "labelFontSize": 7, "labelColor": "#222", "ticks": false, "domain": false, "labelPadding": 5, "titleFontSize": 6, "titlePadding": 9}}
     },
     "layer": [
      {"mark": {"type": "rect"},
       "encoding": {"fill": {"field": "rate", "type": "quantitative",
         "scale": {"domain": [0, 0.125, 0.25, 0.375, 0.5, 0.625, 0.75, 0.875, 1], "range": ["#f7fbff", "#deebf7", "#c6dbef", "#9ecae1", "#6baed6", "#4292c6", "#2171b5", "#08519c", "#08306b"]},
         "legend": {"title": null, "orient": "right", "offset": 14, "gradientLength": 217, "gradientThickness": 11, "gradientStrokeWidth": 0, "values": [0, 0.2, 0.4, 0.6, 0.8, 1], "format": ".1f", "labelFontSize": 7.5, "labelColor": "#333", "labelOffset": 3, "labelBaseline": "middle"}}}},
      {"mark": {"type": "text", "fontSize": 7, "font": "Liberation Serif"},
       "encoding": {"text": {"field": "rate", "type": "quantitative", "format": ".2f"},
                    "color": {"condition": {"test": "datum.rate > 0.5", "value": "white"}, "value": "#222"}}}
     ]
    }
   ]
  }
 ]
}
